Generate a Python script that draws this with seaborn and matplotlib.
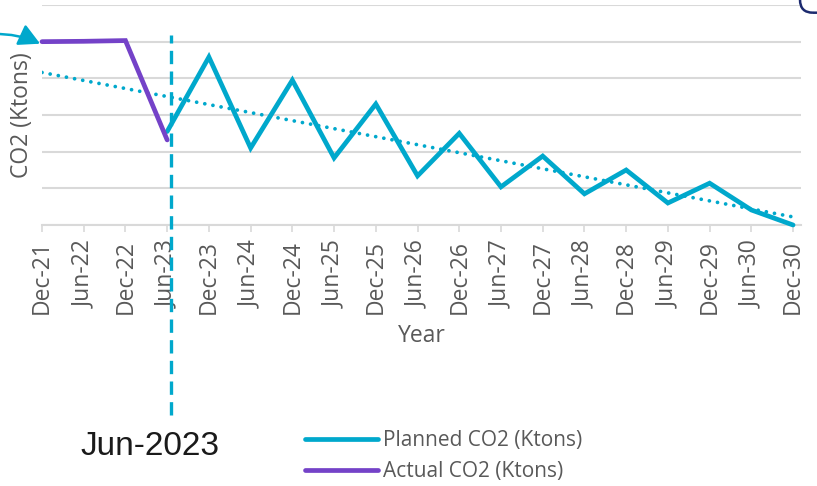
import matplotlib
matplotlib.use("Agg")
import matplotlib.pyplot as plt
import matplotlib.transforms as mtransforms
from matplotlib.patches import FancyBboxPatch
from matplotlib.lines import Line2D
from matplotlib import font_manager
import seaborn as sns
import pandas as pd

# ---------------- data ----------------
periods = ["Dec-21", "Jun-22", "Dec-22", "Jun-23", "Dec-23", "Jun-24", "Dec-24",
           "Jun-25", "Dec-25", "Jun-26", "Dec-26", "Jun-27", "Dec-27", "Jun-28",
           "Dec-28", "Jun-29", "Dec-29", "Jun-30", "Dec-30"]

actual_periods = ["Dec-21", "Jun-22", "Dec-22", "Jun-23"]
actual_values = [5.0, 5.01, 5.03, 2.32]

planned_periods = ["Jun-23", "Dec-23", "Jun-24", "Dec-24", "Jun-25", "Dec-25",
                   "Jun-26", "Dec-26", "Jun-27", "Dec-27", "Jun-28", "Dec-28",
                   "Jun-29", "Dec-29", "Jun-30", "Dec-30"]
planned_values = [2.55, 4.58, 2.10, 3.95, 1.83, 3.30, 1.34, 2.50, 1.04, 1.88,
                  0.85, 1.50, 0.60, 1.14, 0.41, 0.0]

trend_periods = ["Dec-21", "Dec-30"]
trend_values = [4.16, 0.22]

marker_period = "Jun-23"
marker_label = "Jun-2023"
legend_labels = ["Planned CO2 (Ktons)", "Actual CO2 (Ktons)"]
x_title = "Year"
y_title = "CO2 (Ktons)"

# ---------------- style ----------------
CYAN = "#00a8cc"
PURPLE = "#7442c8"
GRID = "#d9d9d9"
TEXT = "#595959"

sns.set_theme(style="white")
plt.rcParams["font.family"] = ["Open Sans", "DejaVu Sans"]

installed = {f.name for f in font_manager.fontManager.ttflist}
narrow = "Liberation Sans Narrow" in installed

W, H = 817, 486
fig = plt.figure(figsize=(W / 100, H / 100), dpi=100)
ax = fig.add_axes([42 / W, (H - 225) / H, 759 / W, 220 / H])

pos = {p: i for i, p in enumerate(periods)}
df_plan = pd.DataFrame({"x": [pos[p] for p in planned_periods], "y": planned_values})
df_act = pd.DataFrame({"x": [pos[p] for p in actual_periods], "y": actual_values})
df_trend = pd.DataFrame({"x": [pos[p] for p in trend_periods], "y": trend_values})

sns.lineplot(data=df_trend, x="x", y="y", ax=ax, color=CYAN, lw=2.7,
             linestyle=(0, (0.01, 2.2)), dash_capstyle="round", zorder=2)
sns.lineplot(data=df_plan, x="x", y="y", ax=ax, color=CYAN, lw=3.4,
             solid_capstyle="round", solid_joinstyle="miter", zorder=3, clip_on=False)
sns.lineplot(data=df_act, x="x", y="y", ax=ax, color=PURPLE, lw=3.4,
             solid_capstyle="round", solid_joinstyle="miter", zorder=4, clip_on=False)

ax.set_xlim(0, 18.19)
ax.set_ylim(0, 6)
ax.set_yticks(range(0, 7))
ax.set_yticklabels([])
ax.tick_params(axis="y", length=0)
ax.grid(axis="y", color=GRID, lw=1.5)
ax.set_axisbelow(True)

ax.set_xticks(range(len(periods)))
ax.set_xticklabels(periods, rotation=90, fontsize=16.5, color=TEXT)
ax.tick_params(axis="x", length=5, width=1.2, color=GRID, pad=6, bottom=True)

for s in ["top", "right", "left"]:
    ax.spines[s].set_visible(False)
ax.spines["bottom"].set_color(GRID)
ax.spines["bottom"].set_linewidth(1.5)

ax.set_xlabel(x_title, fontsize=16.5, color=TEXT)
ax.xaxis.set_label_coords(0.5, -0.45)
ax.set_ylabel(y_title, fontsize=16.5, color=TEXT)
ax.yaxis.set_label_coords(-0.010, 0.5)

# vertical dashed marker line
ax.axvline(pos[marker_period] + 0.1, ymin=-0.864, ymax=0.864, color=CYAN, lw=2.4,
           linestyle=(0, (4, 2.2)), clip_on=False, zorder=5)

fig.text(80 / W, (H - 455) / H, marker_label, fontsize=28 if narrow else 24,
         color="#1a1a1a",
         family=["Liberation Sans Narrow", "Liberation Sans", "DejaVu Sans"],
         va="baseline", ha="left")

# arrow pointing at the first point
ax.annotate("", xy=(pos[actual_periods[0]], actual_values[0] - 0.08), xycoords="data",
            xytext=(-6, H - 34), textcoords="figure pixels",
            arrowprops=dict(arrowstyle="-|>,head_length=0.85,head_width=0.45",
                            mutation_scale=15, color=CYAN, lw=1.8,
                            connectionstyle="arc3,rad=-0.12", shrinkA=0, shrinkB=1.5),
            annotation_clip=False)

# legend
handles = [Line2D([0], [0], color=CYAN, lw=3.4, solid_capstyle="round"),
           Line2D([0], [0], color=PURPLE, lw=3.4, solid_capstyle="round")]
leg = ax.legend(handles, legend_labels, loc="upper left",
                bbox_to_anchor=(305 / W, (H - 430) / H), bbox_transform=fig.transFigure,
                frameon=False, borderpad=0, borderaxespad=0, fontsize=15,
                handlelength=3.5, handletextpad=0.25, labelspacing=0.5)
for t in leg.get_texts():
    t.set_color(TEXT)

# navy rounded corner peeking in at the top right
box = FancyBboxPatch((800, H - 12.7), 120, 120,
                     boxstyle="round,pad=0,rounding_size=13",
                     transform=mtransforms.IdentityTransform(),
                     facecolor="none", edgecolor="#1c2a6e", lw=1.8, clip_on=False)
fig.patches.append(box)

fig.savefig("out.png", dpi=100)
